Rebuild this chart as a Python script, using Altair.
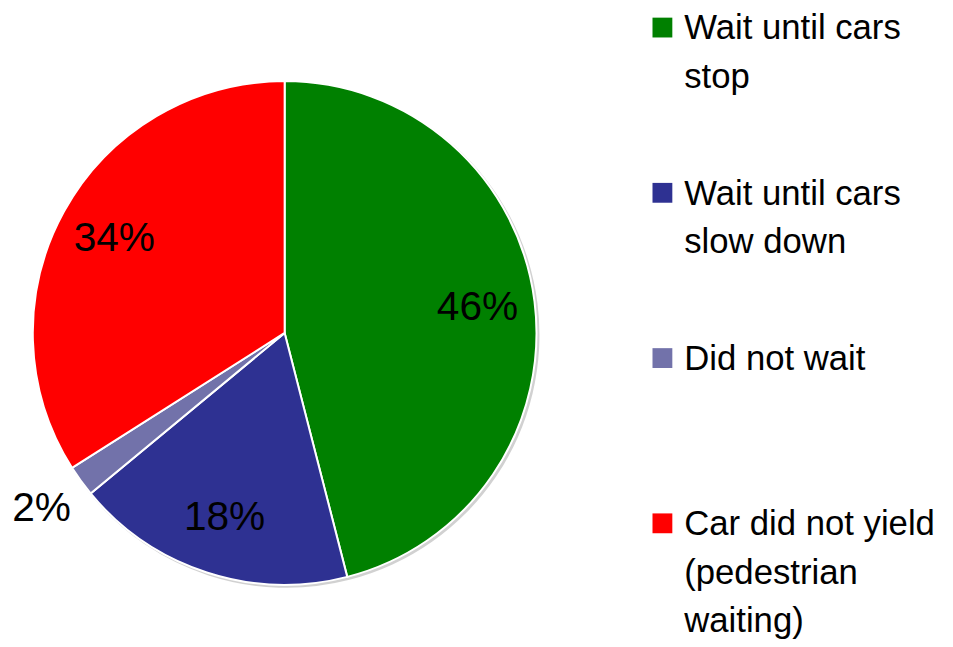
import altair as alt
import pandas as pd

categories = [
    "Wait until cars stop",
    "Wait until cars slow down",
    "Did not wait",
    "Car did not yield (pedestrian waiting)",
]
legend_labels = [
    "Wait until cars\nstop",
    "Wait until cars\nslow down",
    "Did not wait",
    "Car did not yield\n(pedestrian\nwaiting)",
]
values = [46, 18, 2, 34]
pct_labels = ["46%", "18%", "2%", "34%"]
colors = ["#008000", "#2E3192", "#7272AA", "#FF0000"]

df = pd.DataFrame({
    "category": categories,
    "legend": legend_labels,
    "value": values,
    "pct": pct_labels,
    "idx": list(range(len(categories))),
})

cx, cy, R = 279, 325, 254

base = alt.Chart(df)
color = alt.Color("category:N", scale=alt.Scale(domain=categories, range=colors), legend=None)
theta = alt.Theta("value:Q", stack=True)
order = alt.Order("idx:Q", sort="ascending")

shadow = base.mark_arc(radius=R + 1, color="#9a9a9a", opacity=0.45).encode(
    theta=theta, order=order, detail="category:N",
    x=alt.value(cx + 2), y=alt.value(cy + 2),
)
pie = base.mark_arc(radius=R, stroke="white", strokeWidth=2).encode(
    theta=theta, color=color, order=order,
    x=alt.value(cx), y=alt.value(cy),
)
lbl_font = dict(font="Liberation Sans, Arial", fontSize=41, color="black",
                align="center", baseline="middle")
labels_in = base.transform_calculate(
    t="datum.value >= 5 ? datum.pct : ''"
).mark_text(radius=196, **lbl_font).encode(
    theta=theta, order=order, detail="category:N", text="t:N",
    x=alt.value(cx), y=alt.value(cy),
)
labels_out = base.transform_calculate(
    t="datum.value < 5 ? datum.pct : ''"
).mark_text(radius=303, **lbl_font).encode(
    theta=theta, order=order, detail="category:N", text="t:N",
    x=alt.value(cx), y=alt.value(cy),
)

ly = alt.Y("category:N", scale=alt.Scale(type="point", domain=categories, range=[17, 517], padding=0), axis=None)
squares = base.mark_square(size=400, opacity=1).encode(
    x=alt.value(660), y=ly, color=color,
)
legend_text = base.mark_text(
    align="left", baseline="alphabetic", dy=12, lineBreak="\n", lineHeight=49,
    fontSize=35, font="Liberation Sans, Arial", color="black",
).encode(
    x=alt.value(682), y=ly, text="legend:N",
)

chart = alt.layer(shadow, pie, labels_in, labels_out, squares, legend_text).properties(
    width=945, height=639, autosize=alt.AutoSizeParams(type="none"), padding=0
).configure_view(stroke=None)

chart.save("out.html", embed_options={"renderer": "svg", "actions": False})
